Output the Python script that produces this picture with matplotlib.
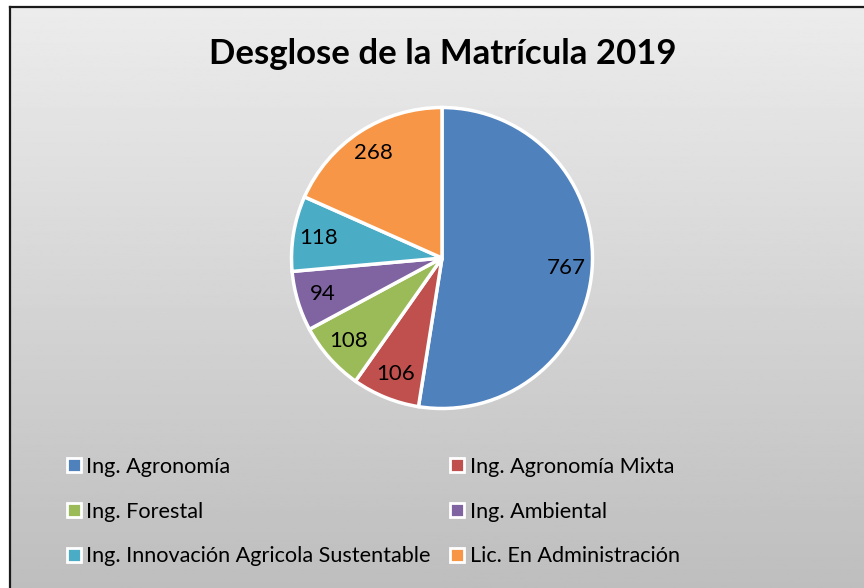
import matplotlib
matplotlib.use("Agg")
import matplotlib.pyplot as plt
import numpy as np
from matplotlib.lines import Line2D

title = "Desglose de la Matrícula 2019"
programas = [
    "Ing. Agronomía",
    "Ing. Agronomía Mixta",
    "Ing. Forestal",
    "Ing. Ambiental",
    "Ing. Innovación Agricola Sustentable",
    "Lic. En Administración",
]
matricula = [767, 106, 108, 94, 118, 268]
colores = ["#4F81BD", "#C0504D", "#9BBB59", "#8064A2", "#4BACC6", "#F79646"]

plt.rcParams["font.family"] = ["Lato", "DejaVu Sans"]

W, H = 864, 588
fig = plt.figure(figsize=(W / 100, H / 100), dpi=100)
fig.patch.set_facecolor("white")

# gradient background inside the chart frame
x0, y_top = 10 / W, 1 - 7 / H
bg = fig.add_axes([x0, 0, 1 - x0, y_top], zorder=0)
grad = np.linspace(0.925, 0.745, 256).reshape(-1, 1)
bg.imshow(grad, aspect="auto", cmap="gray", vmin=0, vmax=1, extent=[0, 1, 0, 1])
bg.set_axis_off()
fig.add_artist(Line2D([x0, x0], [0, y_top], transform=fig.transFigure, color="#1a1a1a", lw=1.6))
fig.add_artist(Line2D([x0, 1], [y_top, y_top], transform=fig.transFigure, color="#1a1a1a", lw=1.6))

fig.text(443 / W, 1 - 54 / H, title, ha="center", va="center",
         fontsize=25, fontweight="bold", color="black")

cx, cy, r = 442, 258, 152
ax = fig.add_axes([(cx - r) / W, (H - cy - r) / H, 2 * r / W, 2 * r / H], zorder=1)
wedges, _, autotexts = ax.pie(
    matricula, colors=colores, startangle=90, counterclock=False,
    autopct=lambda p: f"{round(p * sum(matricula) / 100):d}", pctdistance=0.83,
    wedgeprops=dict(edgecolor="white", linewidth=2.5),
    textprops=dict(fontsize=16, color="black"),
)
ax.set_xlim(-1.01, 1.01)
ax.set_ylim(-1.01, 1.01)

order = [0, 2, 4, 1, 3, 5]
handles = [plt.Rectangle((0, 0), 1, 1, facecolor=colores[i], edgecolor="white", linewidth=2) for i in order]
labels = [programas[i] for i in order]
fig.legend(handles, labels, ncol=2, loc="upper left", bbox_to_anchor=(58 / W, 1 - 448 / H),
           frameon=False, fontsize=15.6, handlelength=0.65, handleheight=0.65,
           handletextpad=0.25, columnspacing=0.9, labelspacing=1.15, borderaxespad=0)

fig.savefig("out.png", dpi=100)
